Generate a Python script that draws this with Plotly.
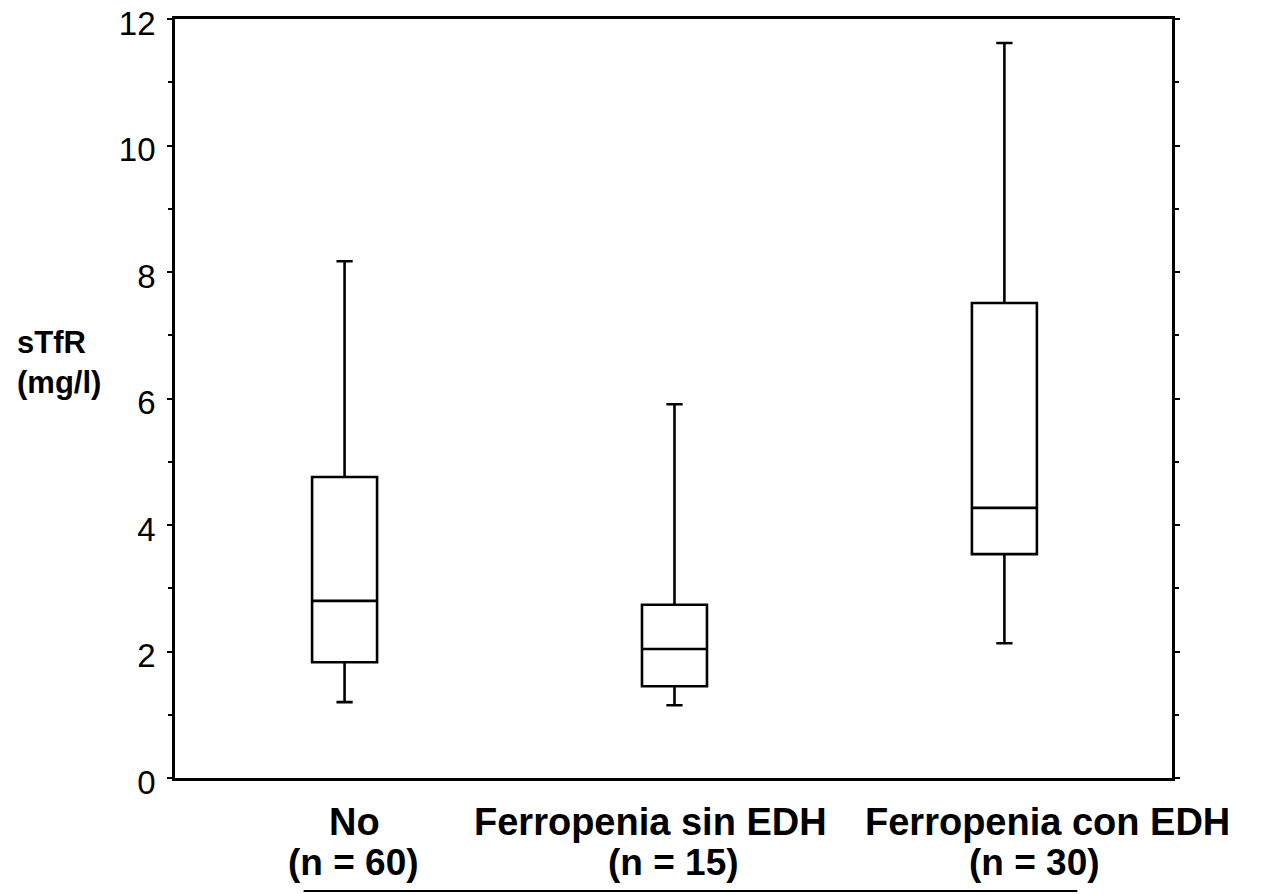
import plotly.graph_objects as go

group_names = ["No", "Ferropenia sin EDH", "Ferropenia con EDH"]
group_sizes = ["(n = 60)", "(n = 15)", "(n = 30)"]
positions = [0, 1, 2]
lower_fence = [1.20, 1.15, 2.13]
q1 = [1.83, 1.45, 3.54]
median = [2.80, 2.04, 4.27]
q3 = [4.76, 2.74, 7.51]
upper_fence = [8.17, 5.91, 11.62]
y_ticks = [0, 2, 4, 6, 8, 10, 12]

FONT = "Liberation Sans, Arial, sans-serif"
# horizontal offsets (px) of the label lines relative to each box, as in the scan
name_shift = [10, -24, 43]
size_shift = [9, -1, 30]

fig = go.Figure()
fig.add_trace(go.Box(
    x=positions,
    q1=q1, median=median, q3=q3,
    lowerfence=lower_fence, upperfence=upper_fence,
    width=0.197,
    whiskerwidth=0.25,
    fillcolor="white",
    line=dict(color="black", width=2.6),
    boxpoints=False,
    hoverinfo="skip",
    showlegend=False,
))

annotations = [dict(
    text="<b>sTfR<br>(mg/l)</b>",
    xref="paper", yref="paper",
    x=-0.1605, y=0.547,
    xanchor="left", yanchor="middle", align="left",
    showarrow=False,
    font=dict(size=31, family=FONT, color="black"),
)]
for p, name, size, s1, s2 in zip(positions, group_names, group_sizes, name_shift, size_shift):
    annotations.append(dict(
        text=f"<b>{name}</b>", x=p, xref="x", y=-0.058, yref="paper",
        xanchor="center", yanchor="middle", xshift=s1, showarrow=False,
        font=dict(size=38, family=FONT, color="black"),
    ))
    annotations.append(dict(
        text=f"<b>{size}</b>", x=p, xref="x", y=-0.1107, yref="paper",
        xanchor="center", yanchor="middle", xshift=s2, showarrow=False,
        font=dict(size=37, family=FONT, color="black"),
    ))

fig.update_layout(
    width=1254, height=886,
    margin=dict(l=167, r=90, t=11, b=116),
    paper_bgcolor="white", plot_bgcolor="white",
    font=dict(family=FONT, color="black"),
    xaxis=dict(
        range=[-0.514, 2.508],
        tickvals=positions, showticklabels=False,
        showline=True, linecolor="black", linewidth=2.8, mirror=True,
        ticks="", showgrid=False, zeroline=False,
        automargin=False,
    ),
    yaxis=dict(
        range=[0, 12],
        tickvals=y_ticks,
        tickfont=dict(size=33, family=FONT, color="black"),
        showline=True, linecolor="black", linewidth=2.8, mirror="ticks",
        ticks="outside", ticklen=5, tickwidth=2, tickcolor="black",
        minor=dict(ticks="outside", ticklen=4, dtick=1, tickwidth=1.5, tickcolor="black"),
        showgrid=False, zeroline=False,
        ticklabelstandoff=5,
        ticklabelshift=4,
        ticklabeloverflow="allow",
        automargin=False,
    ),
    annotations=annotations,
    shapes=[dict(
        type="line", xref="paper", yref="paper",
        x0=0.129, x1=0.905, y0=-0.149, y1=-0.149,
        line=dict(color="black", width=2),
    )],
)

fig.write_html("out.html")
